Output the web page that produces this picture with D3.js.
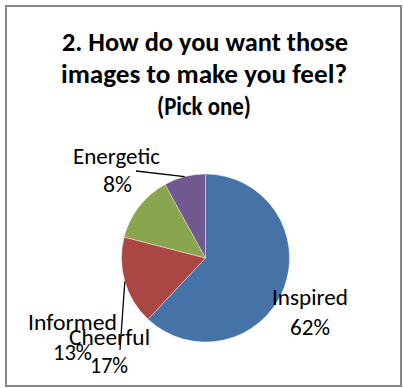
<!DOCTYPE html>
<html>
<head>
<meta charset="utf-8">
<script src="https://cdn.jsdelivr.net/npm/d3@7"></script>
<style>
  html, body { margin: 0; padding: 0; background: #fff; }
  svg { display: block; }
  text { font-family: Carlito, Calibri, Lato, sans-serif; fill: #000; }
</style>
</head>
<body>
<svg id="chart" width="403" height="388"></svg>
<script>
// Survey answers, percent of respondents
const categories = ["Inspired", "Cheerful", "Informed", "Energetic"];
const values = [62, 17, 13, 8];
const sliceColors = ["#4572A7", "#AA4643", "#89A54E", "#71588F"];
const titleLines = ["2. How do you want those", "images to make you feel?", "(Pick one)"];

const svg = d3.select("#chart");

// chart frame
svg.append("rect")
  .attr("x", 6).attr("y", 6)
  .attr("width", 395).attr("height", 380)
  .attr("fill", "#fff")
  .attr("stroke", "#878787")
  .attr("stroke-width", 2);

// title
const titleSpec = [
  { x: 205, y: 51, w: 286 },
  { x: 204, y: 83, w: 286 },
  { x: 204, y: 115, w: 94 }
];
svg.append("g").selectAll("text")
  .data(titleLines)
  .join("text")
  .attr("x", (d, i) => titleSpec[i].x)
  .attr("y", (d, i) => titleSpec[i].y)
  .attr("text-anchor", "middle")
  .attr("font-size", 25.5)
  .attr("font-weight", "bold")
  .attr("textLength", (d, i) => titleSpec[i].w)
  .attr("lengthAdjust", "spacingAndGlyphs")
  .text(d => d);

// pie
const cx = 205.5, cy = 258, radius = 84;
const data = categories.map((c, i) => ({ name: c, value: values[i], color: sliceColors[i] }));
const pie = d3.pie().value(d => d.value).sort(null).startAngle(0).endAngle(2 * Math.PI);
const arcs = pie(data);
const arc = d3.arc().innerRadius(0).outerRadius(radius);

const g = svg.append("g").attr("transform", `translate(${cx},${cy})`);
g.selectAll("path")
  .data(arcs)
  .join("path")
  .attr("d", arc)
  .attr("fill", d => d.data.color)
  .attr("stroke", "rgba(255,255,255,0.55)")
  .attr("stroke-width", 0.7);

// data labels: name on first line, percent on second
const labelSpec = {
  Inspired:  { name: [310, 305, 76], pct: [310, 335, 40], leader: null },
  Cheerful:  { name: [109.5, 345, 81], pct: [109, 373, 38], leader: [120, 350] },
  Informed:  { name: [72.5, 330, 89], pct: [72.5, 360, 39], leader: null },
  Energetic: { name: [116.5, 164, 87], pct: [117.5, 192, 29], leader: [136, 171] }
};

// leader lines from the slice's outer edge to its label
arcs.forEach(a => {
  const s = labelSpec[a.data.name];
  if (!s.leader) return;
  const mid = (a.startAngle + a.endAngle) / 2;
  const x0 = cx + radius * Math.sin(mid);
  const y0 = cy - radius * Math.cos(mid);
  svg.append("line")
    .attr("x1", x0).attr("y1", y0)
    .attr("x2", s.leader[0]).attr("y2", s.leader[1])
    .attr("stroke", "#000")
    .attr("stroke-width", 1.3);
});

const labels = svg.append("g");
arcs.forEach(a => {
  const s = labelSpec[a.data.name];
  labels.append("text")
    .attr("x", s.name[0]).attr("y", s.name[1])
    .attr("text-anchor", "middle")
    .attr("font-size", 22.5)
    .attr("textLength", s.name[2])
    .attr("lengthAdjust", "spacingAndGlyphs")
    .text(a.data.name);
  labels.append("text")
    .attr("x", s.pct[0]).attr("y", s.pct[1])
    .attr("text-anchor", "middle")
    .attr("font-size", 22.5)
    .attr("textLength", s.pct[2])
    .attr("lengthAdjust", "spacingAndGlyphs")
    .text(a.data.value + "%");
});
</script>
</body>
</html>
